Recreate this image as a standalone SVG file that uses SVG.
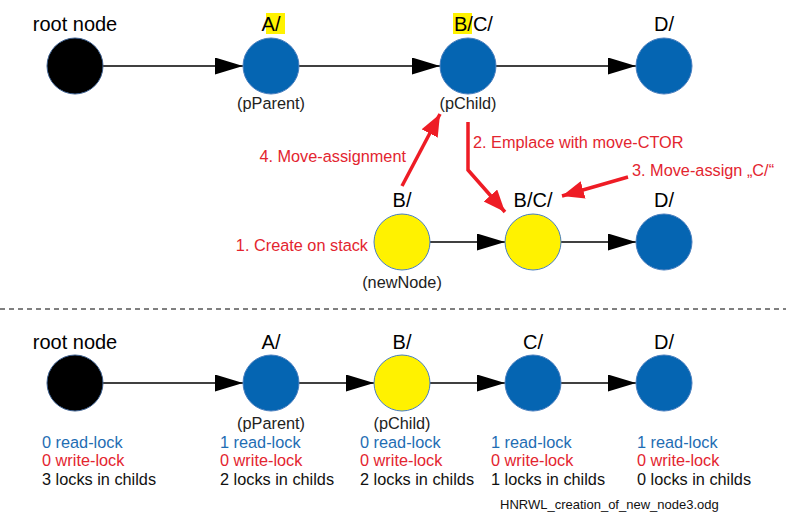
<svg xmlns="http://www.w3.org/2000/svg" width="800" height="524" viewBox="0 0 800 524">
<style>
text{font-family:"Liberation Sans",Arial,sans-serif}
.lbl{font-size:20px;fill:#000;text-anchor:middle}
.sub{font-size:16.3px;fill:#222;text-anchor:middle}
.red{font-size:16.3px;fill:#e3252f}
.rl{font-size:16.3px;fill:#1f6db3}
.wl{font-size:16.3px;fill:#e3252f}
.cl{font-size:16.3px;fill:#111}
.blue{fill:#0565b2;stroke:#4a7fbf;stroke-width:1}
.yel{fill:#fff200;stroke:#4a7fbf;stroke-width:1}
.blk{fill:#000;stroke:#3c5f8f;stroke-width:1}
.conn{stroke:#000;stroke-width:1.5;fill:none;marker-end:url(#ah)}
.rconn{stroke:#ee1c25;stroke-width:3.5;fill:none;marker-end:url(#rh)}
</style>
<defs>
<marker id="ah" markerUnits="userSpaceOnUse" markerWidth="28" markerHeight="18" refX="28" refY="8.5" orient="auto"><path d="M0,0 L28,8.5 L0,17 z" fill="#000"/></marker>
<marker id="rh" markerUnits="userSpaceOnUse" markerWidth="24" markerHeight="20" refX="22" refY="9" orient="auto"><path d="M0,0 L22,9 L0,18 z" fill="#ee1c25"/></marker>
</defs>
<rect width="800" height="524" fill="#fff"/>

<g id="connectors">
<line class="conn" x1="103" y1="66" x2="243" y2="66"/>
<line class="conn" x1="299" y1="66" x2="440" y2="66"/>
<line class="conn" x1="496" y1="66" x2="636" y2="66"/>
<line class="conn" x1="430" y1="242" x2="505" y2="242"/>
<line class="conn" x1="561" y1="242" x2="636" y2="242"/>
<line class="conn" x1="103" y1="383" x2="243" y2="383"/>
<line class="conn" x1="299" y1="383" x2="374" y2="383"/>
<line class="conn" x1="430" y1="383" x2="505" y2="383"/>
<line class="conn" x1="561" y1="383" x2="636" y2="383"/>
<line class="rconn" x1="402" y1="186" x2="440" y2="114"/>
<polyline class="rconn" points="468,122 468,170 505,212"/>
<line class="rconn" x1="628" y1="177" x2="562" y2="196"/>
<line x1="0" y1="309" x2="786" y2="309" stroke="#000" stroke-width="1" stroke-dasharray="5,4"/>
</g>

<g id="top-root"><text class="lbl" x="75" y="31">root node</text><circle class="blk" cx="75" cy="66" r="28"/></g>
<g id="top-A"><rect x="266" y="13" width="19" height="21" fill="#fff200"/><text class="lbl" x="271" y="31">A/</text><circle class="blue" cx="271" cy="66" r="28"/><text class="sub" x="271" y="109">(pParent)</text></g>
<g id="top-BC"><rect x="453" y="13" width="19" height="21" fill="#fff200"/><text class="lbl" x="454" y="31" style="text-anchor:start">B/C/</text><circle class="blue" cx="468" cy="66" r="28"/><text class="sub" x="468" y="109">(pChild)</text></g>
<g id="top-D"><text class="lbl" x="664" y="31">D/</text><circle class="blue" cx="664" cy="66" r="28"/></g>

<g id="mid-B"><text class="lbl" x="402" y="207">B/</text><circle class="yel" cx="402" cy="242" r="28"/><text class="sub" x="402" y="288">(newNode)</text></g>
<g id="mid-BC"><text class="lbl" x="533" y="207">B/C/</text><circle class="yel" cx="533" cy="242" r="28"/></g>
<g id="mid-D"><text class="lbl" x="664" y="207">D/</text><circle class="blue" cx="664" cy="242" r="28"/></g>

<g id="steps">
<text class="red" x="368" y="251" text-anchor="end">1. Create on stack</text>
<text class="red" x="473" y="148">2. Emplace with move-CTOR</text>
<text class="red" x="632" y="176">3. Move-assign „C/“</text>
<text class="red" x="406" y="162" text-anchor="end">4. Move-assignment</text>
</g>

<g id="bot-root"><text class="lbl" x="75" y="349">root node</text><circle class="blk" cx="75" cy="383" r="28"/>
<text class="rl" x="42" y="448">0 read-lock</text><text class="wl" x="42" y="466">0 write-lock</text><text class="cl" x="42" y="485">3 locks in childs</text></g>
<g id="bot-A"><text class="lbl" x="271" y="349">A/</text><circle class="blue" cx="271" cy="383" r="28"/><text class="sub" x="271" y="429">(pParent)</text>
<text class="rl" x="220" y="448">1 read-lock</text><text class="wl" x="220" y="466">0 write-lock</text><text class="cl" x="220" y="485">2 locks in childs</text></g>
<g id="bot-B"><text class="lbl" x="402" y="349">B/</text><circle class="yel" cx="402" cy="383" r="28"/><text class="sub" x="402" y="429">(pChild)</text>
<text class="rl" x="360" y="448">0 read-lock</text><text class="wl" x="360" y="466">0 write-lock</text><text class="cl" x="360" y="485">2 locks in childs</text></g>
<g id="bot-C"><text class="lbl" x="533" y="349">C/</text><circle class="blue" cx="533" cy="383" r="28"/>
<text class="rl" x="491" y="448">1 read-lock</text><text class="wl" x="491" y="466">0 write-lock</text><text class="cl" x="491" y="485">1 locks in childs</text></g>
<g id="bot-D"><text class="lbl" x="664" y="349">D/</text><circle class="blue" cx="664" cy="383" r="28"/>
<text class="rl" x="637" y="448">1 read-lock</text><text class="wl" x="637" y="466">0 write-lock</text><text class="cl" x="637" y="485">0 locks in childs</text></g>

<text x="500" y="509" font-size="13" fill="#111">HNRWL_creation_of_new_node3.odg</text>
</svg>
